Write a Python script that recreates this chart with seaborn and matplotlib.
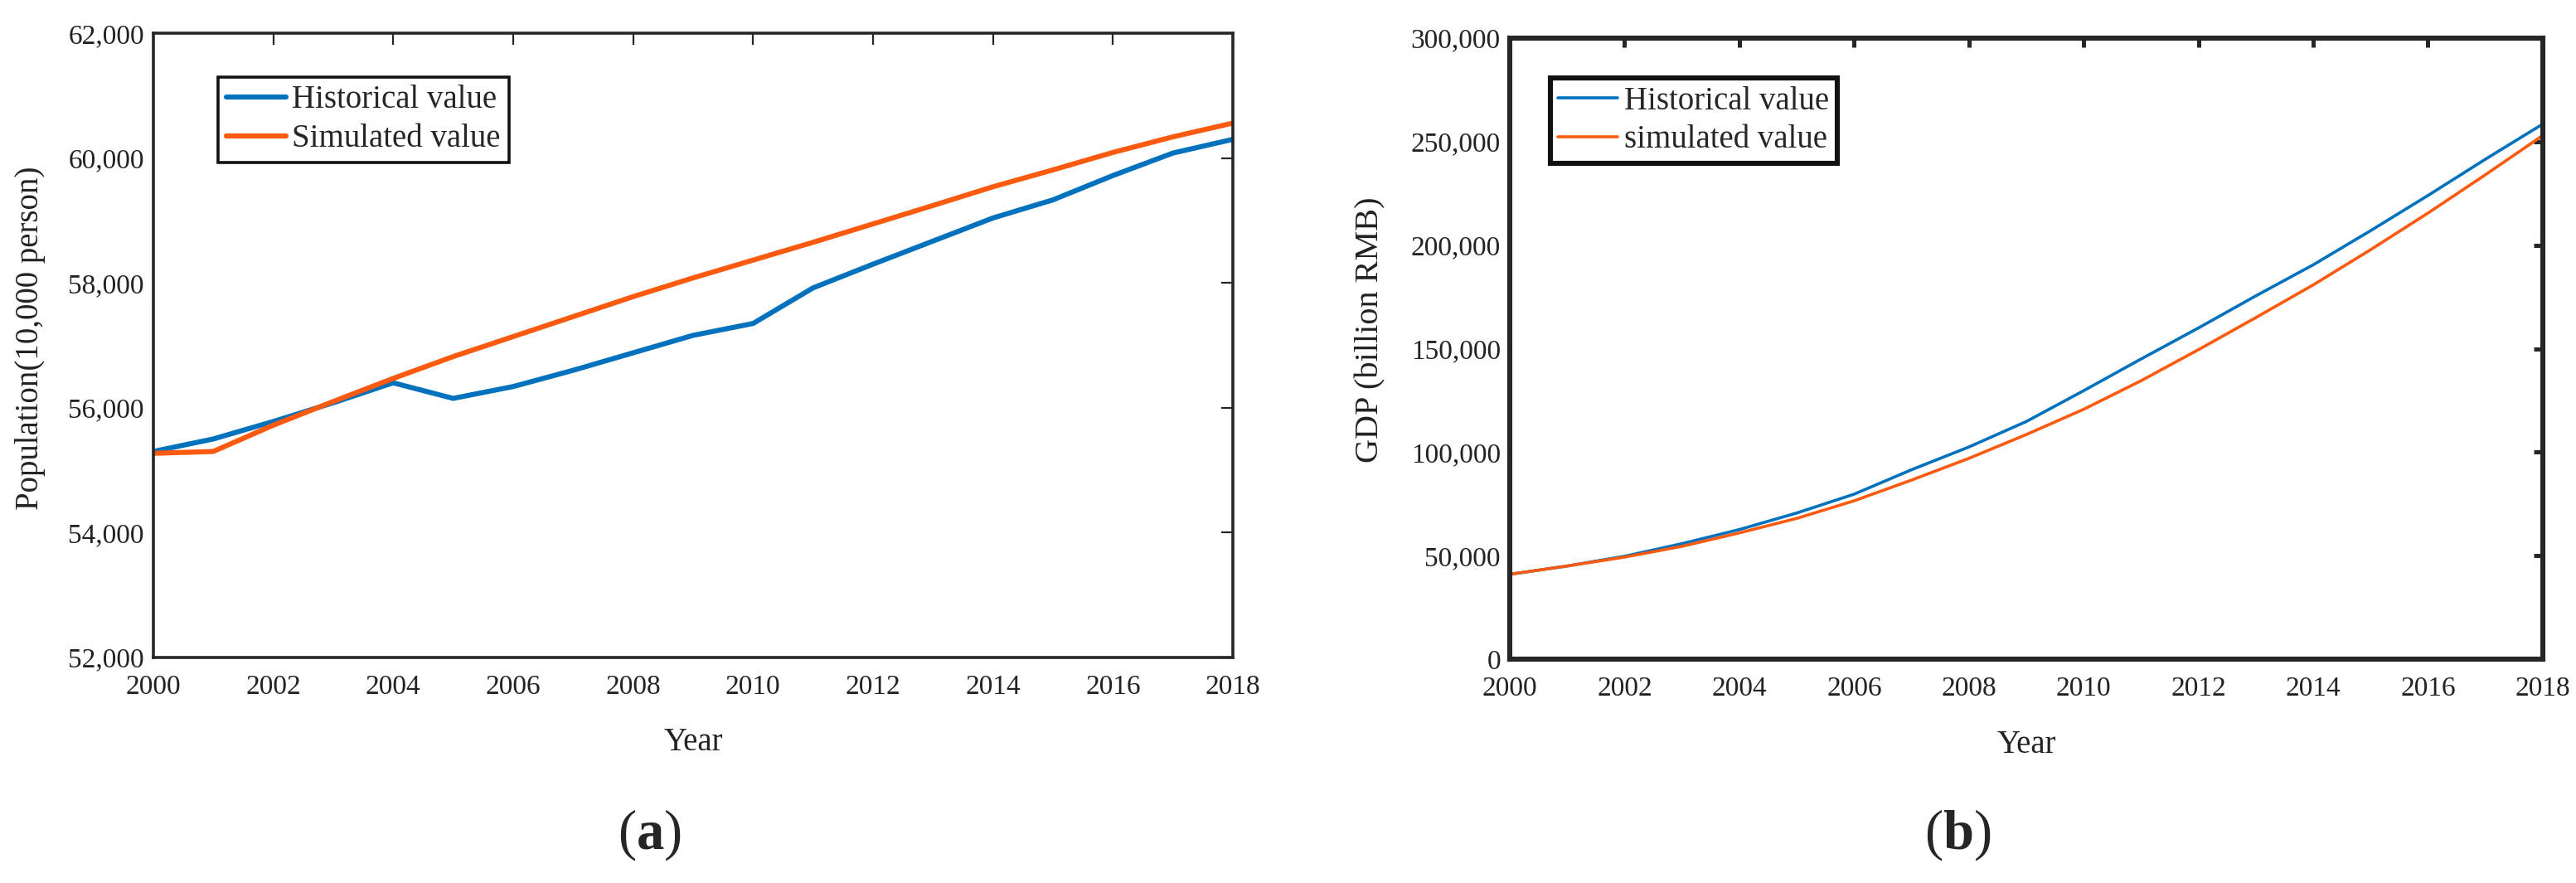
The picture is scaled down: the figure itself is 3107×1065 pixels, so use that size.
import matplotlib
matplotlib.use("Agg")
import matplotlib.pyplot as plt
import matplotlib.ticker as mticker
import seaborn as sns
import pandas as pd

# dados
anos = list(range(2000, 2019))

pop_hist = [55300, 55500, 55780, 56080, 56400, 56150, 56340, 56600, 56880,
            57160, 57350, 57920, 58300, 58670, 59040, 59330, 59720, 60080, 60300]
pop_sim = [55270, 55300, 55720, 56100, 56470, 56820, 57140, 57460, 57780,
           58080, 58365, 58650, 58945, 59240, 59540, 59810, 60090, 60340, 60560]

gdp_hist = [41000, 45000, 49700, 55800, 62600, 70600, 79700, 91500, 102500,
            114800, 129700, 145000, 160000, 175500, 190500, 207000, 224000, 241500, 258500]
gdp_sim = [41000, 45000, 49300, 54500, 61000, 68000, 76500, 86500, 97000,
           108500, 120700, 134500, 149500, 165000, 180800, 197800, 215500, 234000, 253000]

azul = "#0072BD"
laranja = "#FC5A0F"
eixo = "#262626"

sns.set_theme(style="white")
plt.rcParams["font.family"] = ["Liberation Serif", "DejaVu Serif"]
plt.rcParams["mathtext.fontset"] = "custom"
plt.rcParams["mathtext.rm"] = "Liberation Serif"
plt.rcParams["mathtext.bf"] = "Liberation Serif:bold"

fig = plt.figure(figsize=(15.535, 5.325), dpi=200)
ax1 = fig.add_axes([0.0595, 0.2554, 0.4191, 0.7070])
ax2 = fig.add_axes([0.5861, 0.2535, 0.4010, 0.7033])


def painel(ax, hist, sim, nomes, lw, spw, tickw, tickl, ylim, ystep, ylabel, leg_pos,
           lab_y, lab_x, lab_yy, ylab_size):
    df = pd.DataFrame({"ano": anos, "hist": hist, "sim": sim})
    sns.lineplot(data=df, x="ano", y="hist", ax=ax, color=azul, linewidth=lw, label=nomes[0])
    sns.lineplot(data=df, x="ano", y="sim", ax=ax, color=laranja, linewidth=lw, label=nomes[1])

    ax.set_xlim(2000, 2018)
    ax.set_ylim(*ylim)
    ax.set_xticks(range(2000, 2019, 2))
    ax.set_yticks(range(ylim[0], ylim[1] + 1, ystep))
    ax.yaxis.set_major_formatter(mticker.StrMethodFormatter("{x:,.0f}"))

    for s in ax.spines.values():
        s.set_visible(True)
        s.set_color(eixo)
        s.set_linewidth(spw)

    ax.tick_params(direction="in", top=True, right=True, length=tickl, width=tickw,
                   color=eixo, labelsize=12, labelcolor="#222222")
    ax.tick_params(axis="x", pad=7.5)
    ax.tick_params(axis="y", pad=4)

    ax.set_xlabel("Year", fontsize=14, color="#222222", va="center")
    ax.set_ylabel(ylabel, fontsize=ylab_size, color="#222222", va="center")
    ax.xaxis.set_label_coords(0.5, lab_y)
    ax.yaxis.set_label_coords(lab_x, lab_yy)

    leg = ax.legend(loc="upper left", bbox_to_anchor=leg_pos, borderaxespad=0,
                    fontsize=14, frameon=True, fancybox=False, handlelength=1.85,
                    handletextpad=0.2, labelspacing=0.25, borderpad=0.25)
    leg.get_frame().set_edgecolor("#111111")
    leg.get_frame().set_linewidth(spw)
    leg.get_frame().set_alpha(1)
    ax.grid(False)


painel(ax1, pop_hist, pop_sim, ["Historical value", "Simulated value"],
       2.2, 1.3, 0.8, 5, (52000, 62000), 2000, "Population(10,000 person)",
       (0.06, 0.93), -0.1355, -0.1137, 0.512, 14)
painel(ax2, gdp_hist, gdp_sim, ["Historical value", "simulated value"],
       1.3, 2.2, 1.8, 4, (0, 300000), 50000, "GDP (billion RMB)",
       (0.039, 0.936), -0.1375, -0.1348, 0.53, 14.5)

fig.text(0.252, 0.0545, r"($\mathbf{a}$)", fontsize=24, ha="center", va="center")
fig.text(0.760, 0.0545, r"($\mathbf{b}$)", fontsize=24, ha="center", va="center")

fig.savefig("out.png", dpi=200, facecolor="white")
